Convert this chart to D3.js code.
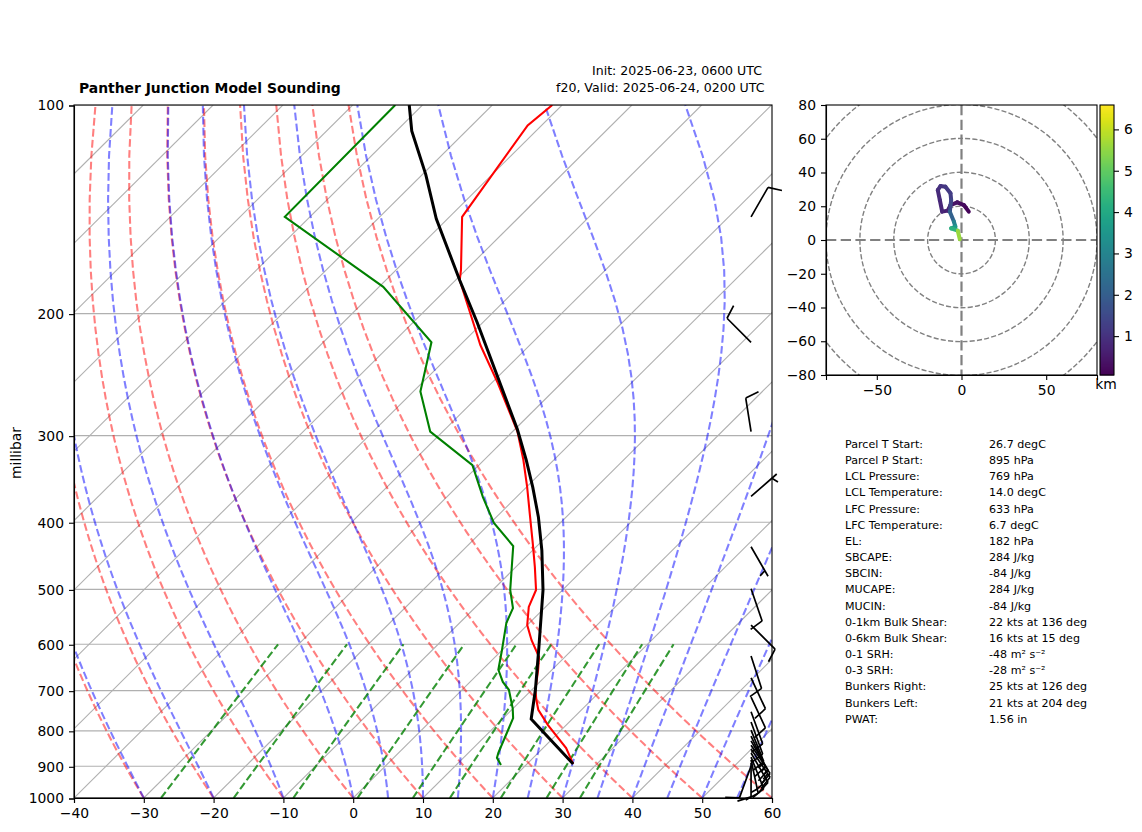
<!DOCTYPE html>
<html>
<head>
<meta charset="utf-8">
<script src="https://cdn.jsdelivr.net/npm/d3@7"></script>
<style>
body { margin: 0; background: #fff; }
svg { display: block; font-family: "DejaVu Sans", sans-serif; }
.axis text { font-size: 13.9px; fill: #000; font-family: "DejaVu Sans", sans-serif; }
.axis line, .axis path { stroke: #000; stroke-width: 1.1; }
</style>
</head>
<body>
<svg width="1142" height="832"></svg>
<script>
// sounding profiles (hPa, degC)
const tempP = [893, 847, 785, 746, 722, 698, 653, 626, 592, 563, 530, 501, 464, 429, 388, 356, 325, 296, 252, 222, 211, 179, 173, 145, 107, 100];
const tempT = [26.6, 23.3, 17.4, 13.8, 12.1, 10.5, 8.0, 6.3, 2.8, 0.0, -2.4, -3.8, -7.3, -11, -15.8, -19.9, -24.4, -29.3, -39.1, -47.1, -50, -59.4, -60.7, -68.2, -72, -71.4];
const dewP = [896, 875, 861, 767, 742, 698, 680, 653, 612, 559, 532, 501, 433, 401, 368, 331, 296, 259, 220, 183, 145, 100];
const dewT = [16.4, 14.8, 14.3, 11.4, 9.9, 6.7, 4.7, 2.3, 0, -3.3, -4.5, -7.5, -13.4, -19.5, -24.8, -30.9, -41.8, -49, -54.5, -69.4, -93.6, -93.9];
const parcelP = [893, 769, 698, 605, 501, 439, 393, 356, 325, 294, 249, 206, 179, 146, 126, 109, 100];
const parcelT = [26.6, 14.1, 10.5, 4.8, -2.8, -8.7, -14, -19.1, -24, -29.6, -39.5, -50.8, -59.4, -71.6, -79.5, -87.8, -91.9];

// wind barbs
const barbP = [145, 220, 296, 367, 434, 499, 563, 624, 671, 715, 751, 777, 798, 814, 827, 839, 850, 861, 873, 881, 890, 899];
const barbDir = [30, 315, 351, 49, 150, 161, 135, 162, 155, 155, 160, 160, 158, 155, 150, 146, 146, 150, 158, 168, 180, 200];
const barbSpd = [10, 10, 10, 5, 5, 10, 10, 10, 10, 10, 10, 10, 10, 15, 15, 15, 15, 15, 15, 15, 10, 10];

// hodograph (kts, km)
const hodoU = [4.3, 1.4, -2.5, -6.5, -8.1, -11.4, -12.8, -14, -12.4, -9.5, -6.5, -6.1, -6.9, -4.5, -3.6, -6.1, -2.2, -1];
const hodoV = [16.8, 20.7, 22.3, 20.7, 17.4, 16.8, 23.7, 29.6, 32, 31.6, 27.7, 23.7, 16.8, 10.9, 7.9, 6.9, 5.5, 0.4];
const hodoH = [0.1, 0.2, 0.3, 0.45, 0.6, 0.7, 0.8, 0.9, 1, 1.1, 1.2, 1.3, 1.6, 2.6, 3.4, 3.9, 4.6, 6.59];

// background lines
const pressureTicks = [100, 200, 300, 400, 500, 600, 700, 800, 900, 1000];
const tempTicks = [-40, -30, -20, -10, 0, 10, 20, 30, 40, 50, 60];
const isotherms = d3.range(-140, 70, 10);
const dryStart = d3.range(-40, 70, 10);
const moistStart = [-40, -30, -20, -10, 0, 5, 10, 15, 20, 25, 30, 35, 40, 45, 50, 55, 60];
const mixingRatios = [0.0004, 0.001, 0.002, 0.004, 0.007, 0.01, 0.016, 0.024, 0.032];
const hodoRings = [20, 40, 60, 80, 100];
const hodoXTicks = [-50, 0, 50];
const hodoYTicks = [-80, -60, -40, -20, 0, 20, 40, 60, 80];
const cbarTicks = [1, 2, 3, 4, 5, 6];

const statLabels = ["Parcel T Start:", "Parcel P Start:", "LCL Pressure:", "LCL Temperature:", "LFC Pressure:", "LFC Temperature:", "EL:", "SBCAPE:", "SBCIN:", "MUCAPE:", "MUCIN:", "0-1km Bulk Shear:", "0-6km Bulk Shear:", "0-1 SRH:", "0-3 SRH:", "Bunkers Right:", "Bunkers Left:", "PWAT:"];
const statValues = ["26.7 degC", "895 hPa", "769 hPa", "14.0 degC", "633 hPa", "6.7 degC", "182 hPa", "284 J/kg", "-84 J/kg", "284 J/kg", "-84 J/kg", "22 kts at 136 deg", "16 kts at 15 deg", "-48 m² s⁻²", "-28 m² s⁻²", "25 kts at 126 deg", "21 kts at 204 deg", "1.56 in"];

const svg = d3.select("svg");
const plotL = 74, plotR = 772, plotT = 105, plotB = 798;
const x = d3.scaleLinear().domain([-40, 60]).range([plotL, plotR]);
const y = d3.scaleLog().domain([1000, 100]).range([plotB, plotT]);
const skew = 697.5 / 693;
const sx = (t, p) => x(t) + (plotB - y(p)) * skew;

const defs = svg.append("defs");
defs.append("clipPath").attr("id", "skewClip").append("rect")
    .attr("x", plotL).attr("y", plotT).attr("width", plotR - plotL).attr("height", plotB - plotT);
defs.append("clipPath").attr("id", "hodoClip").append("rect")
    .attr("x", 826).attr("y", 105).attr("width", 271).attr("height", 270);

const line = d3.line().x(d => sx(d[0], d[1])).y(d => y(d[1]));
const plot = svg.append("g").attr("clip-path", "url(#skewClip)");

// grid
pressureTicks.forEach(p => {
    plot.append("line").attr("x1", plotL).attr("x2", plotR).attr("y1", y(p)).attr("y2", y(p))
        .attr("stroke", "#b0b0b0").attr("stroke-width", 1.1);
});
isotherms.forEach(t => {
    plot.append("path").attr("d", line([[t, 1000], [t, 100]]))
        .attr("fill", "none").attr("stroke", "#b0b0b0").attr("stroke-width", 1.1);
});

// dry adiabats
const levels = d3.range(0, 50).map(i => 1000 - i * 900 / 49);
dryStart.forEach(t0 => {
    const pts = levels.map(p => [(t0 + 273.15) * Math.pow(p / 1000, 0.28571) - 273.15, p]);
    plot.append("path").attr("d", line(pts)).attr("fill", "none")
        .attr("stroke", "red").attr("stroke-opacity", 0.5).attr("stroke-width", 2.08)
        .attr("stroke-dasharray", "7.7,3.3");
});

// moist adiabats
function satVap(tc) { return 6.112 * Math.exp(17.67 * tc / (tc + 243.5)); }
function moistSlope(tk, p) {
    const rs = 0.622 * satVap(tk - 273.15) / (p - satVap(tk - 273.15));
    const Lv = 2.50084e6, Rd = 287.05, Cp = 1005;
    return (Rd * tk + Lv * rs) / (Cp + Lv * Lv * rs * 0.622 / (Rd * tk * tk));
}
function moistProfile(t0) {
    let tk = t0 + 273.15;
    const pts = [[t0, levels[0]]];
    for (let i = 1; i < levels.length; i++) {
        const n = 8;
        const a = Math.log(levels[i - 1]), b = Math.log(levels[i]);
        const h = (b - a) / n;
        for (let j = 0; j < n; j++) {
            const lp = a + j * h;
            const k1 = moistSlope(tk, Math.exp(lp));
            const k2 = moistSlope(tk + h * k1 / 2, Math.exp(lp + h / 2));
            const k3 = moistSlope(tk + h * k2 / 2, Math.exp(lp + h / 2));
            const k4 = moistSlope(tk + h * k3, Math.exp(lp + h));
            tk += h * (k1 + 2 * k2 + 2 * k3 + k4) / 6;
        }
        pts.push([tk - 273.15, levels[i]]);
    }
    return pts;
}
moistStart.forEach(t0 => {
    plot.append("path").attr("d", line(moistProfile(t0))).attr("fill", "none")
        .attr("stroke", "blue").attr("stroke-opacity", 0.5).attr("stroke-width", 2.08)
        .attr("stroke-dasharray", "7.7,3.3");
});

// mixing ratio lines
const mixLevels = d3.range(0, 20).map(i => 1000 - i * 400 / 19);
mixingRatios.forEach(w => {
    const pts = mixLevels.map(p => {
        const l = Math.log(p * w / (0.622 + w) / 6.112);
        return [243.5 * l / (17.67 - l), p];
    });
    plot.append("path").attr("d", line(pts)).attr("fill", "none")
        .attr("stroke", "#008000").attr("stroke-opacity", 0.8).attr("stroke-width", 2.08)
        .attr("stroke-dasharray", "7.7,3.3");
});

// profiles
plot.append("path").attr("d", line(tempT.map((t, i) => [t, tempP[i]])))
    .attr("fill", "none").attr("stroke", "red").attr("stroke-width", 2.08);
plot.append("path").attr("d", line(dewT.map((t, i) => [t, dewP[i]])))
    .attr("fill", "none").attr("stroke", "#008000").attr("stroke-width", 2.08);
plot.append("path").attr("d", line(parcelT.map((t, i) => [t, parcelP[i]])))
    .attr("fill", "none").attr("stroke", "black").attr("stroke-width", 3);

// frame and axes
svg.append("rect").attr("x", plotL).attr("y", plotT).attr("width", plotR - plotL).attr("height", plotB - plotT)
    .attr("fill", "none").attr("stroke", "#000").attr("stroke-width", 1.1);
svg.append("g").attr("class", "axis").attr("transform", `translate(0,${plotB})`)
    .call(d3.axisBottom(x).tickValues(tempTicks).tickSize(5).tickPadding(5).tickFormat(d3.format("d")));
svg.append("g").attr("class", "axis").attr("transform", `translate(${plotL},0.5)`)
    .call(d3.axisLeft(y).tickValues(pressureTicks).tickSize(5).tickPadding(5).tickFormat(d3.format("d")));
svg.append("text").attr("transform", "translate(21,453) rotate(-90)")
    .attr("text-anchor", "middle").attr("font-size", 13.9).text("millibar");

// titles
svg.append("text").attr("x", 79).attr("y", 92.5).attr("font-size", 13.9).attr("font-weight", "bold")
    .text("Panther Junction Model Sounding");
svg.append("text").attr("x", 592).attr("y", 74.5).attr("font-size", 12.55).text("Init: 2025-06-23, 0600 UTC");
svg.append("text").attr("x", 556).attr("y", 92).attr("font-size", 12.55).text("f20, Valid: 2025-06-24, 0200 UTC");

// wind barbs, tail at a fixed x
const barbX = plotL + 0.97 * (plotR - plotL);
const barbLen = 34;
barbP.forEach((p, i) => {
    const g = svg.append("g").attr("transform", `translate(${barbX},${y(p)}) rotate(${barbDir[i]})`);
    const path = d3.path();
    path.moveTo(0, 0);
    path.lineTo(0, -barbLen);
    const full = Math.floor(barbSpd[i] / 10);
    const half = barbSpd[i] % 10 >= 5;
    let pos = barbLen;
    for (let b = 0; b < full; b++) {
        path.moveTo(0, -pos);
        path.lineTo(0.4 * barbLen, -(pos + 0.125 * barbLen));
        pos -= 0.125 * barbLen;
    }
    if (half) {
        if (full === 0) pos -= 1.5 * 0.125 * barbLen;
        path.moveTo(0, -pos);
        path.lineTo(0.2 * barbLen, -(pos + 0.0625 * barbLen));
    }
    g.append("path").attr("d", path.toString()).attr("fill", "none")
        .attr("stroke", "#000").attr("stroke-width", 1.7);
});

// hodograph
const hx = d3.scaleLinear().domain([-80, 80]).range([826, 1097]);
const hy = d3.scaleLinear().domain([-80, 80]).range([375, 105]);
const heightColor = d3.scaleSequential(d3.interpolateViridis).domain([0.06, 6.59]);
const hodo = svg.append("g").attr("clip-path", "url(#hodoClip)");
hodoRings.forEach(r => {
    hodo.append("circle").attr("cx", hx(0)).attr("cy", hy(0)).attr("r", hx(r) - hx(0))
        .attr("fill", "none").attr("stroke", "#808080").attr("stroke-width", 1.39)
        .attr("stroke-dasharray", "5.1,2.2");
});
hodo.append("line").attr("x1", 826).attr("x2", 1097).attr("y1", hy(0)).attr("y2", hy(0))
    .attr("stroke", "#808080").attr("stroke-width", 2.2).attr("stroke-dasharray", "10.3,4.4");
hodo.append("line").attr("x1", hx(0)).attr("x2", hx(0)).attr("y1", 105).attr("y2", 375)
    .attr("stroke", "#808080").attr("stroke-width", 2.2).attr("stroke-dasharray", "10.3,4.4");
for (let i = 0; i < hodoU.length - 1; i++) {
    hodo.append("line")
        .attr("x1", hx(hodoU[i])).attr("y1", hy(hodoV[i]))
        .attr("x2", hx(hodoU[i + 1])).attr("y2", hy(hodoV[i + 1]))
        .attr("stroke", heightColor((hodoH[i] + hodoH[i + 1]) / 2))
        .attr("stroke-width", 4).attr("stroke-linecap", "round");
}
svg.append("rect").attr("x", 826).attr("y", 105).attr("width", 271).attr("height", 270)
    .attr("fill", "none").attr("stroke", "#000").attr("stroke-width", 1.1);
svg.append("g").attr("class", "axis").attr("transform", "translate(0,375)")
    .call(d3.axisBottom(hx).tickValues(hodoXTicks).tickSize(5).tickPadding(5).tickFormat(d3.format("d")));
svg.append("g").attr("class", "axis").attr("transform", "translate(826,0)")
    .call(d3.axisLeft(hy).tickValues(hodoYTicks).tickSize(5).tickPadding(5).tickFormat(d3.format("d")));

// colorbar
const cy = d3.scaleLinear().domain([0.06, 6.59]).range([375, 105]);
const cbar = svg.append("g");
d3.range(0, 270).forEach(i => {
    cbar.append("rect").attr("x", 1100).attr("width", 14).attr("y", 105 + i).attr("height", 1.5)
        .attr("fill", heightColor(cy.invert(105 + i + 0.5)));
});
cbar.append("rect").attr("x", 1100).attr("y", 105).attr("width", 14).attr("height", 270)
    .attr("fill", "none").attr("stroke", "#000").attr("stroke-width", 1.1);
svg.append("g").attr("class", "axis").attr("transform", "translate(1114,0)")
    .call(d3.axisRight(cy).tickValues(cbarTicks).tickSize(5).tickPadding(5).tickFormat(d3.format("d")))
    .select(".domain").remove();
svg.append("text").attr("x", 1106).attr("y", 389).attr("text-anchor", "middle").attr("font-size", 13.9).text("km");

// stats table
statLabels.forEach((s, i) => {
    const ty = 448 + i * 16.16;
    svg.append("text").attr("x", 845).attr("y", ty).attr("font-size", 11.1).text(s);
    svg.append("text").attr("x", 989).attr("y", ty).attr("font-size", 11.1).text(statValues[i]);
});
</script>
</body>
</html>
